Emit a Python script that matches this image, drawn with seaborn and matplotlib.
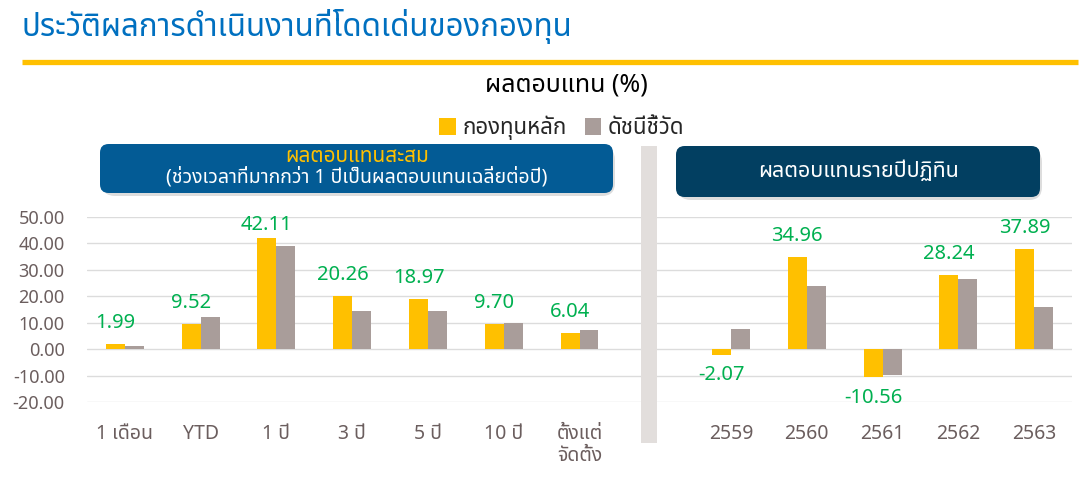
import numpy as np
import pandas as pd
import matplotlib
matplotlib.use("Agg")
import matplotlib.pyplot as plt
import seaborn as sns
from matplotlib import font_manager as fm
from matplotlib.ft2font import FT2Font
from matplotlib.patches import FancyBboxPatch, Rectangle, Patch
from matplotlib.lines import Line2D
from matplotlib.ticker import FuncFormatter

# ---------------- data ----------------
cum_periods = ["1 เดือน", "YTD", "1 ปี", "3 ปี", "5 ปี", "10 ปี", "ตั้งแต่\nจัดตั้ง"]
cum_fund = [1.99, 9.52, 42.11, 20.26, 18.97, 9.70, 6.04]
cum_index = [1.1, 12.1, 38.9, 14.4, 14.4, 10.0, 7.2]

years = ["2559", "2560", "2561", "2562", "2563"]
year_fund = [-2.07, 34.96, -10.56, 28.24, 37.89]
year_index = [7.7, 24.0, -9.7, 26.6, 16.0]

series_names = ["กองทุนหลัก", "ดัชนีชี้วัด"]
yticks = [-20, -10, 0, 10, 20, 30, 40, 50]

title = "ประวัติผลการดำเนินงานที่โดดเด่นของกองทุน"
chart_title = "ผลตอบแทน (%)"
box1_line1 = "ผลตอบแทนสะสม"
box1_line2 = "(ช่วงเวลาที่มากกว่า 1 ปีเป็นผลตอบแทนเฉลี่ยต่อปี)"
box2_text = "ผลตอบแทนรายปีปฏิทิน"

# ---------------- font (needs Thai glyphs) ----------------
def find_thai_font():
    prefs = ["Noto Sans Thai", "Noto Sans Thai UI", "Noto Sans Thai Looped", "Kanit", "Prompt",
             "Sarabun", "Loma", "Garuda", "Tlwg Typo", "Waree", "Umpush", "Norasi"]
    found = {}
    for f in fm.fontManager.ttflist:
        if f.name in found:
            continue
        try:
            cm = FT2Font(f.fname).get_charmap()
        except Exception:
            continue
        if 0x0E01 in cm and 0x0E34 in cm:
            found[f.name] = f.fname
    for p in prefs:
        if p in found:
            return p
    return next(iter(found), None)

sns.set_theme(style="white")
thai = find_thai_font()
families = ([thai] if thai else []) + ["DejaVu Sans"]
plt.rcParams["font.family"] = families

# ---------------- colours ----------------
YELLOW = "#FFC000"
GRAY = "#A99D9A"
GREEN = "#00B050"
TICK = "#6B5E5E"
GRID = "#DCDCDC"

W, H = 1083, 482
fig = plt.figure(figsize=(W / 100, H / 100), dpi=100)
fig.patch.set_facecolor("white")

def fx(x):
    return x / W

def fy(y):
    return 1 - y / H

# axes: left 87px .. 1072px ; y 217px (50) .. 402px (-20)
ax = fig.add_axes([fx(87), fy(402), (1072 - 87) / W, (402 - 217) / H])

gap_label = " "
order = cum_periods + [gap_label] + years
df = pd.DataFrame({
    "period": cum_periods * 2 + years * 2,
    "series": [series_names[0]] * len(cum_periods) + [series_names[1]] * len(cum_periods)
              + [series_names[0]] * len(years) + [series_names[1]] * len(years),
    "value": cum_fund + cum_index + year_fund + year_index,
})

sns.barplot(data=df, x="period", y="value", hue="series", order=order,
            hue_order=series_names, palette=[YELLOW, GRAY], width=0.5,
            saturation=1, legend=False, ax=ax, errorbar=None,
            linewidth=0, edgecolor="none")

ax.set_xlim(-0.5, len(order) - 0.5)
ax.set_ylim(-20, 50)
ax.set_yticks(yticks)
ax.yaxis.set_major_formatter(FuncFormatter(lambda v, p: f"{v:.2f}"))
ax.grid(axis="y", color=GRID, linewidth=1.0)
ax.grid(axis="x", visible=False)
ax.set_axisbelow(True)
for s in ax.spines.values():
    s.set_visible(False)
ax.set_xlabel("")
ax.set_ylabel("")
ax.tick_params(axis="x", length=0, pad=16, labelsize=14, labelcolor=TICK)
ax.tick_params(axis="y", length=0, pad=16, labelsize=13, labelcolor=TICK)
for t in ax.get_xticklabels():
    t.set_linespacing(1.1)
    t.set_verticalalignment("top")

# data labels (fund series)
for bar in ax.containers[0]:
    h = bar.get_height()
    xc = bar.get_x() + bar.get_width() / 2
    if h >= 0:
        off = 9 if h > 40 else 15
        ax.annotate(f"{h:.2f}", (xc, h), xytext=(0, off), textcoords="offset points",
                    ha="center", va="center", color=GREEN, fontsize=14.5)
    else:
        ax.annotate(f"{h:.2f}", (xc, h), xytext=(0, -15), textcoords="offset points",
                    ha="center", va="center", color=GREEN, fontsize=14.5)

# separator band
fig.patches.append(Rectangle((fx(641), fy(443)), (657 - 641) / W, (443 - 146) / H,
                             transform=fig.transFigure, facecolor="#E2DEDC",
                             edgecolor="none", zorder=0))

# header title and rule
fig.text(fx(21), fy(27), title, ha="left", va="center", color="#0070C0", fontsize=22.5)
fig.add_artist(Line2D([fx(22), fx(1078)], [fy(62), fy(62)], transform=fig.transFigure,
                      color=YELLOW, linewidth=3.8, solid_capstyle="butt"))

fig.text(fx(566), fy(85), chart_title, ha="center", va="center", color="black",
         fontsize=18, fontweight="bold")

handles = [Patch(facecolor=YELLOW, edgecolor="none"), Patch(facecolor=GRAY, edgecolor="none")]
fig.legend(handles, series_names, loc="center", bbox_to_anchor=(fx(562), fy(128)), ncol=2,
           frameon=False, fontsize=16, handlelength=0.75, handleheight=0.75,
           handletextpad=0.3, columnspacing=0.8)

def rbox(x0, y0, x1, y1, color):
    shadow = FancyBboxPatch((fx(x0 + 2), fy(y1 + 3)), (x1 - x0) / W, (y1 - y0) / H,
                            boxstyle="round,pad=0,rounding_size=0.012",
                            transform=fig.transFigure, facecolor="#00000022",
                            edgecolor="none", zorder=1, mutation_aspect=W / H)
    box = FancyBboxPatch((fx(x0), fy(y1)), (x1 - x0) / W, (y1 - y0) / H,
                         boxstyle="round,pad=0,rounding_size=0.008",
                         transform=fig.transFigure, facecolor=color,
                         edgecolor="none", zorder=2, mutation_aspect=W / H)
    fig.patches.append(shadow)
    fig.patches.append(box)

rbox(100, 144, 613, 193, "#035B95")
rbox(676, 146, 1040, 197, "#023F61")
fig.text(fx(357), fy(157), box1_line1, ha="center", va="center", color=YELLOW, fontsize=15,
         fontweight="bold", zorder=3)
fig.text(fx(357), fy(177), box1_line2, ha="center", va="center", color="white", fontsize=14,
         fontweight="bold", zorder=3)
fig.text(fx(858), fy(171), box2_text, ha="center", va="center", color="white", fontsize=15.5,
         fontweight="bold", zorder=3)

fig.savefig("out.png", dpi=100, facecolor="white")
